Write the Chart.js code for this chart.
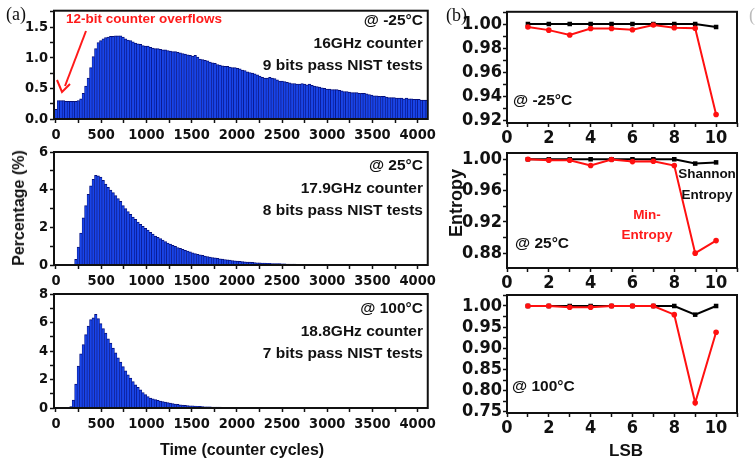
<!DOCTYPE html>
<html>
<head>
<meta charset="utf-8">
<script src="https://cdn.jsdelivr.net/npm/chart.js@4.4.1/dist/chart.umd.min.js"></script>
<style>
  html, body { margin: 0; padding: 0; background: #fff; }
  body { width: 755px; height: 462px; position: relative; overflow: hidden;
         font-family: 'Liberation Sans', Arial, sans-serif; font-weight: bold; color: #111; }
  canvas { position: absolute; }
  .t { position: absolute; white-space: nowrap; line-height: 1; }
  .serif { font-family: 'Liberation Serif', 'Times New Roman', serif; font-weight: normal; font-size: 18px; }
  .note { position: absolute; text-align: right; font-size: 15.5px; line-height: 22.5px; right: 332px; }
  .rot { position: absolute; white-space: nowrap; line-height: 1; transform: translate(-50%, -50%) rotate(-90deg); }
  .ctr { position: absolute; white-space: nowrap; line-height: 1; transform: translate(-50%, -50%); }
</style>
</head>
<body>
<canvas id="h1" style="left:0;top:0" width="440" height="147"></canvas>
<canvas id="h2" style="left:0;top:140px" width="440" height="153"></canvas>
<canvas id="h3" style="left:0;top:282px" width="440" height="154"></canvas>
<canvas id="e1" style="left:440px;top:0" width="315" height="151"></canvas>
<canvas id="e2" style="left:440px;top:140px" width="315" height="156"></canvas>
<canvas id="e3" style="left:440px;top:282px" width="315" height="159"></canvas>

<div class="t serif" style="left:6px;top:5px">(a)</div>
<div class="t serif" style="left:446px;top:6px">(b)</div>
<div class="t serif" style="left:749px;top:6px;color:#bbb">(c)</div>

<div class="t" style="left:66px;top:12px;font-size:13.5px;color:#ff1a1a">12-bit counter overflows</div>
<svg style="position:absolute;left:0;top:0" width="120" height="110">
  <line x1="86" y1="31" x2="65" y2="86" stroke="#ff1a1a" stroke-width="2"/>
  <polyline points="57,80 62,92 70,84" fill="none" stroke="#ff1a1a" stroke-width="2"/>
</svg>

<div class="note" style="top:9px">@ -25°C<br>16GHz counter<br>9 bits pass NIST tests</div>
<div class="note" style="top:154px">@ 25°C<br>17.9GHz counter<br>8 bits pass NIST tests</div>
<div class="note" style="top:297px">@ 100°C<br>18.8GHz counter<br>7 bits pass NIST tests</div>

<div class="t" style="left:513px;top:92px;font-size:15.5px">@ -25°C</div>
<div class="t" style="left:515px;top:235px;font-size:15.5px">@ 25°C</div>
<div class="t" style="left:512px;top:378px;font-size:15.5px">@ 100°C</div>

<div class="t" style="left:667px;top:163px;width:80px;text-align:center;font-size:13.5px;line-height:21px">Shannon<br>Entropy</div>
<div class="t" style="left:607px;top:205px;width:80px;text-align:center;font-size:13.5px;line-height:20px;color:#ff1a1a">Min-<br>Entropy</div>

<div class="rot" style="left:19px;top:208px;font-size:16px">Percentage (%)</div>
<div class="ctr" style="left:242px;top:450px;font-size:16px">Time (counter cycles)</div>
<div class="rot" style="left:456px;top:203px;font-size:18px">Entropy</div>
<div class="ctr" style="left:626px;top:450px;font-size:17px">LSB</div>

<script>
// histogram bins, 27.5 counter cycles wide, first bin centred on 0
const BIN_WIDTH = 27.5;

const HIST_M25 = [
  0.16,0.30,0.30,0.30,0.29,0.29,0.29,0.29,0.29,0.30,
  0.33,0.42,0.54,0.67,0.84,1.02,1.15,1.25,1.28,1.31,
  1.33,1.34,1.35,1.35,1.36,1.36,1.36,1.34,1.31,1.29,
  1.28,1.26,1.24,1.23,1.22,1.20,1.19,1.19,1.17,1.16,
  1.15,1.15,1.14,1.13,1.13,1.12,1.11,1.10,1.10,1.09,
  1.08,1.07,1.06,1.05,1.04,1.03,1.04,1.01,0.98,0.97,
  0.96,0.95,0.93,0.92,0.91,0.89,0.88,0.87,0.86,0.86,
  0.85,0.84,0.84,0.83,0.82,0.80,0.79,0.77,0.76,0.75,
  0.74,0.72,0.70,0.68,0.67,0.67,0.68,0.67,0.66,0.64,
  0.62,0.62,0.61,0.60,0.59,0.58,0.58,0.57,0.57,0.58,
  0.57,0.56,0.57,0.55,0.54,0.53,0.52,0.51,0.50,0.49,
  0.49,0.48,0.48,0.48,0.47,0.46,0.45,0.45,0.44,0.43,
  0.43,0.43,0.42,0.42,0.42,0.41,0.40,0.39,0.38,0.38,
  0.37,0.37,0.37,0.36,0.35,0.35,0.35,0.34,0.34,0.34,
  0.33,0.34,0.33,0.33,0.32,0.32,0.32,0.31,0.31,0.31
];

const HIST_P25 = [
  0,0,0,0,0,0,0,0,0.30,0.95,
  1.70,2.50,3.15,3.75,4.20,4.55,4.76,4.74,4.67,4.50,
  4.30,4.13,3.98,3.84,3.68,3.53,3.38,3.15,2.99,2.83,
  2.69,2.54,2.42,2.28,2.16,2.05,1.95,1.85,1.74,1.64,
  1.54,1.47,1.40,1.32,1.24,1.17,1.11,1.05,0.99,0.93,
  0.88,0.83,0.78,0.74,0.70,0.65,0.60,0.57,0.54,0.51,
  0.48,0.45,0.42,0.40,0.38,0.36,0.33,0.31,0.29,0.27,
  0.26,0.24,0.22,0.21,0.20,0.18,0.17,0.16,0.15,0.14,
  0.13,0.12,0.11,0.10,0.10,0.09,0.09,0.08,0.08,0.07,
  0.07,0.06,0.06,0.05,0.05,0.05,0.05,0.04,0.04,0.04,
  0.04,0.04,0.03,0.03,0.03,0.03,0.03,0.03,0.03,0.03,
  0.03,0.03,0.03,0.03,0.03,0.02,0.02,0.02,0.02,0.02,
  0.02,0.02,0.02,0.02,0.02,0.02,0.02,0.02,0.02,0.02,
  0.02,0.02,0.02,0.02,0.02,0.01,0.01,0.01,0.01,0.01,
  0.01,0.01,0.01,0.01,0.01,0.01,0.01,0.01,0.01,0.01
];

const HIST_P100 = [
  0,0,0,0,0,0,0.10,0.55,1.68,2.95,
  3.80,4.45,5.15,5.75,6.20,6.32,6.57,6.27,5.92,5.58,
  5.25,4.85,4.55,4.20,3.88,3.52,3.22,2.90,2.60,2.33,
  2.10,1.85,1.63,1.45,1.27,1.09,0.94,0.80,0.70,0.64,
  0.59,0.54,0.49,0.45,0.42,0.38,0.34,0.31,0.28,0.26,
  0.23,0.21,0.19,0.17,0.16,0.15,0.14,0.12,0.11,0.10,
  0.09,0.09,0.08,0.07,0.07,0.06,0.06,0.05,0.05,0.05,
  0.04,0.04,0.04,0.04,0.04,0.04,0.03,0.03,0.03,0.03,
  0.03,0.03,0.03,0.03,0.03,0.03,0.03,0.03,0.03,0.03,
  0.03,0.02,0.02,0.02,0.02,0.02,0.02,0.02,0.02,0.02,
  0.02,0.02,0.02,0.02,0.02,0.02,0.02,0.02,0.02,0.02,
  0.02,0.02,0.02,0.02,0.02,0.02,0.02,0.02,0.02,0.02,
  0.02,0.01,0.01,0.01,0.01,0.01,0.01,0.01,0.01,0.01,
  0.01,0.01,0.01,0.01,0.01,0.01,0.01,0.01,0.01,0.01,
  0.01,0.01,0.01,0.01,0.01,0.01,0.01,0.01,0.01,0.01
];

// entropy vs number of LSBs
const LSB = [1, 2, 3, 4, 5, 6, 7, 8, 9, 10];
const SHANNON_M25 = [1.000, 1.000, 1.000, 1.000, 1.000, 1.000, 1.000, 1.000, 1.000, 0.9976];
const MIN_M25     = [0.9976, 0.995, 0.991, 0.9963, 0.9963, 0.9953, 0.9992, 0.997, 0.9966, 0.925];
const SHANNON_P25 = [1.000, 1.000, 1.000, 1.000, 1.000, 1.000, 1.000, 1.000, 0.9945, 0.996];
const MIN_P25     = [1.000, 0.9987, 0.9987, 0.992, 0.9996, 0.997, 0.9975, 0.992, 0.880, 0.896];
const SHANNON_P100 = [1.000, 1.000, 1.000, 1.000, 1.000, 1.000, 1.000, 1.000, 0.9795, 1.000];
const MIN_P100     = [1.000, 1.000, 0.997, 0.997, 1.000, 1.000, 1.000, 0.9795, 0.771, 0.938];

const TICK_FONT = "'Liberation Sans Narrow', 'Arial Narrow', 'DejaVu Sans Condensed', sans-serif";
const INK = '#111';

Chart.defaults.animation = false;
Chart.defaults.font.family = TICK_FONT;
Chart.defaults.font.weight = 'bold';
Chart.defaults.color = INK;

const isMajor = (v, step) => Math.abs(v / step - Math.round(v / step)) < 1e-6;

// box around the plot area
const framePlugin = {
  id: 'frame',
  afterDraw(chart) {
    const { ctx, chartArea: a } = chart;
    ctx.save();
    ctx.strokeStyle = INK;
    ctx.lineWidth = 2;
    ctx.strokeRect(a.left, a.top, a.right - a.left, a.bottom - a.top);
    ctx.restore();
  }
};

function axis(opts) {
  return {
    type: 'linear',
    min: opts.min,
    max: opts.max,
    offset: false,
    border: { display: false },
    grid: { offset: false, drawOnChartArea: false, drawTicks: true, tickLength: 4, tickWidth: 1.5, tickColor: INK },
    ticks: {
      stepSize: opts.step,
      includeBounds: false,
      autoSkip: false,
      maxRotation: 0,
      padding: opts.pad,
      font: { size: opts.size },
      callback: v => isMajor(v, opts.major) ? opts.fmt(v) : ''
    },
    afterFit: opts.fit
  };
}

function histogram(id, values, yMax, yStep, yMajor, yFmt, padTop) {
  const centres = values.map((_, i) => i * BIN_WIDTH);
  new Chart(document.getElementById(id), {
    type: 'bar',
    data: {
      datasets: [{
        data: values.map((v, i) => ({ x: centres[i], y: v })),
        backgroundColor: '#1844e8',
        borderColor: '#06107a',
        borderWidth: { top: 1, left: 0.6, right: 0.6, bottom: 0 },
        borderSkipped: 'bottom',
        categoryPercentage: 1,
        barPercentage: 1
      }]
    },
    options: {
      responsive: false,
      layout: { padding: { top: padTop, right: 8, left: 0, bottom: 0 } },
      plugins: { legend: { display: false }, tooltip: { enabled: false } },
      scales: {
        x: axis({ min: -22, max: 4112, step: 250, major: 500, fmt: v => String(v), size: 14.5, pad: 4,
                  fit: s => { s.height = 28; } }),
        y: axis({ min: 0, max: yMax, step: yStep, major: yMajor, fmt: yFmt, size: 14.5, pad: 2,
                  fit: s => { s.width = 54; } })
      }
    },
    plugins: [framePlugin]
  });
}

function entropy(id, shannon, minEnt, yMin, yMax, yStep, yMajor, padTop) {
  new Chart(document.getElementById(id), {
    type: 'line',
    data: {
      datasets: [
        {
          label: 'Min-Entropy',
          data: LSB.map((x, i) => ({ x, y: minEnt[i] })),
          borderColor: '#ff1010', backgroundColor: '#ff1010',
          borderWidth: 2, pointStyle: 'circle', pointRadius: 2.8, pointBorderWidth: 0
        },
        {
          label: 'Shannon Entropy',
          data: LSB.map((x, i) => ({ x, y: shannon[i] })),
          borderColor: '#000', backgroundColor: '#000',
          borderWidth: 2, pointStyle: 'rect', pointRadius: 3.2, pointBorderWidth: 0
        }
      ]
    },
    options: {
      responsive: false,
      layout: { padding: { top: padTop, right: 18, left: 0, bottom: 0 } },
      plugins: { legend: { display: false }, tooltip: { enabled: false } },
      scales: {
        x: axis({ min: 0, max: 11, step: 1, major: 2, fmt: v => String(v), size: 18, pad: 1,
                  fit: s => { s.height = 28; } }),
        y: axis({ min: yMin, max: yMax, step: yStep, major: yMajor, fmt: v => v.toFixed(2), size: 18, pad: 1,
                  fit: s => { s.width = 67; } })
      }
    },
    plugins: [framePlugin]
  });
}

histogram('h1', HIST_M25, 1.77, 0.25, 0.5, v => v.toFixed(1), 5);
histogram('h2', HIST_P25, 6, 1, 2, v => String(v), 12);
histogram('h3', HIST_P100, 8, 1, 2, v => String(v), 12);

entropy('e1', SHANNON_M25, MIN_M25, 0.918, 1.0102, 0.01, 0.02, 6);
entropy('e2', SHANNON_P25, MIN_P25, 0.861, 1.008, 0.02, 0.04, 13);
entropy('e3', SHANNON_P100, MIN_P100, 0.747, 1.026, 0.025, 0.05, 13);
</script>
</body>
</html>
